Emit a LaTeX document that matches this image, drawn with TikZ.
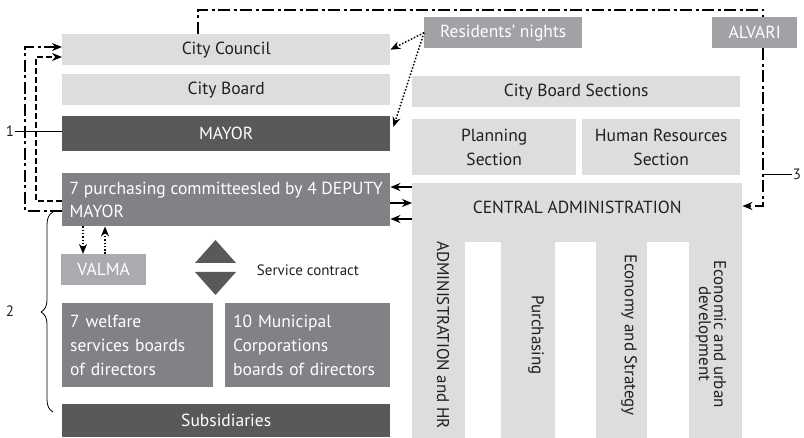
\documentclass[tikz,border=0pt]{standalone}
\usepackage{fontspec}
\setmainfont{PT Sans}
\usetikzlibrary{arrows.meta}
\usetikzlibrary{decorations.pathreplacing}
\definecolor{lightgrey}{HTML}{DCDDDE}
\definecolor{midgrey}{HTML}{808285}
\definecolor{darkgrey}{HTML}{58595B}
\definecolor{tabgrey}{HTML}{A0A2A5}
\definecolor{valmagrey}{HTML}{A9ABAE}
\definecolor{ink}{HTML}{231F20}
\begin{document}
\begin{tikzpicture}[x=1pt,y=-1pt,>={Stealth[length=10pt,width=8pt]},
    box node/.style={rectangle,anchor=north west,inner sep=0pt,font=\fontsize{17.5}{23}\selectfont},
    light node/.style={box node,fill=lightgrey,text=ink},
    mid node/.style={box node,fill=midgrey,text=white},
    dark node/.style={box node,fill=darkgrey,text=white},
    tab node/.style={box node,fill=tabgrey,text=white},
    label node/.style={font=\fontsize{17}{18}\selectfont,text=ink,inner sep=1pt},
    dashdotted link/.style={line width=2pt,dash pattern=on 12pt off 3.5pt on 3pt off 3.5pt},
    dashed link/.style={line width=1.6pt,dash pattern=on 6pt off 3pt},
    dotted link/.style={line width=1.5pt,dash pattern=on 1.5pt off 1.8pt},
    solid link/.style={line width=1.5pt}]
  \useasboundingbox (0,0) rectangle (804,438);
  % left block
  \node[light node,minimum width=328pt,minimum height=31pt] (council) at (62,34) {City Council};
  \node[light node,minimum width=328pt,minimum height=31pt] (board) at (62,74) {City Board};
  \node[dark node,minimum width=328pt,minimum height=35pt] (mayor) at (62,116) {MAYOR};
  \node[mid node,minimum width=328pt,minimum height=53pt,align=left] (committees) at (62,173) {7 purchasing committeesled by 4 DEPUTY\\MAYOR};
  \node[box node,fill=valmagrey,text=white,minimum width=85pt,minimum height=31pt] (valma) at (61,254) {VALMA};
  \node[mid node,minimum height=84pt,text width=135pt,align=left,inner xsep=8pt,font=\fontsize{17.5}{24}\selectfont] (welfare) at (62,303) {7 welfare\\services boards\\of directors};
  \node[mid node,minimum height=84pt,text width=149pt,align=left,inner xsep=8pt,font=\fontsize{17.5}{24}\selectfont] (corporations) at (225,303) {10 Municipal\\Corporations\\boards of directors};
  \node[dark node,minimum width=328pt,minimum height=33pt] (subsidiaries) at (62,404) {Subsidiaries};
  % service contract
  \fill[darkgrey] (195,263) -- (236,263) -- (215.5,240) -- cycle;
  \fill[darkgrey] (195,272) -- (236,272) -- (215.5,295) -- cycle;
  \node[label node,font=\fontsize{15}{16}\selectfont] (contract) at (308,270) {Service contract};

  % right block
  \node[tab node,minimum width=158pt,minimum height=31pt] (residents) at (424,17) {Residents’ nights};
  \node[tab node,minimum width=85pt,minimum height=31pt] (alvari) at (712,17) {ALVARI};
  \node[light node,minimum width=328pt,minimum height=31pt] (sections) at (412,76) {City Board Sections};
  \node[light node,minimum width=164pt,minimum height=56pt,align=center,font=\fontsize{17.5}{24}\selectfont] (planning) at (412,119) {Planning\\Section};
  \node[light node,minimum width=158pt,minimum height=56pt,align=center,font=\fontsize{17.5}{24}\selectfont] (hr) at (582,119) {Human Resources\\Section};
  \node[light node,minimum width=330pt,minimum height=59pt,text height=12pt,text depth=11pt] (central) at (412,183) {CENTRAL ADMINISTRATION};
  \node[light node,minimum width=53pt,minimum height=197pt] (col1) at (412,241) {};
  \node[light node,minimum width=54pt,minimum height=197pt] (col2) at (501,241) {};
  \node[light node,minimum width=51pt,minimum height=197pt] (col3) at (596,241) {};
  \node[light node,minimum width=53pt,minimum height=197pt] (col4) at (689,241) {};
  \node[label node,rotate=-90] (adminhr) at (443,335) {ADMINISTRATION and HR};
  \node[label node,rotate=-90] (purchasing) at (536,335) {Purchasing};
  \node[label node,rotate=-90] (strategy) at (629,335) {Economy and Strategy};
  \node[label node,rotate=-90,align=center,font=\fontsize{17}{15}\selectfont] (urban) at (711,334) {Economic and urban\\development};

  % numbers
  \node[label node,font=\fontsize{15}{16}\selectfont] (one) at (10,131) {1};
  \node[label node,font=\fontsize{15}{16}\selectfont] (two) at (10,311) {2};
  \node[label node,font=\fontsize{15}{16}\selectfont] (three) at (797,174) {3};

  % connectors
  \coordinate (topleft) at (198,10);
  \coordinate (topright) at (763,10);
  \coordinate (botright) at (763,206);
  \coordinate (outerbot) at (25,211);
  \coordinate (outertop) at (25,47);
  \coordinate (innerbot) at (36,201);
  \coordinate (innertop) at (36,57);
  \draw[dashdotted link] (council.north -| topleft) -- (topleft) -- (topright) -- (topright |- alvari.north);
  \draw[dashdotted link,->] (topright |- alvari.south) -- (botright) -- (botright -| central.east);
  \draw[dashdotted link,->] (outerbot -| committees.west) -- (outerbot) -- (outertop) -- (outertop -| council.west);
  \draw[dashed link,->] (innerbot -| committees.west) -- (innerbot) -- (innertop) -- (innertop -| council.west);
  \draw[dotted link,->] (residents.west) -- (council.east);
  \draw[dotted link,->] (residents.west) -- ([xshift=3pt,yshift=-11pt]mayor.north east);
  \draw[solid link,->] (central.west |- 0,187) -- (committees.east |- 0,187);
  \draw[solid link,->] (committees.east |- 0,203) -- (central.west |- 0,203);
  \draw[solid link,->] (central.west |- 0,219) -- (committees.east |- 0,219);
  \draw[dotted link,->] (committees.south -| 83,0) -- (valma.north -| 83,0);
  \draw[dotted link,->] (valma.north -| 105,0) -- (committees.south -| 105,0);
  \draw[line width=0.8pt] (one.east) -- (one.east -| mayor.west);
  \draw[line width=0.8pt] (three.west) -- (three.west -| topright);
  \draw[line width=0.8pt,decorate,decoration={brace,amplitude=12pt}] (53,412) -- (53,212);
\end{tikzpicture}
\end{document}
